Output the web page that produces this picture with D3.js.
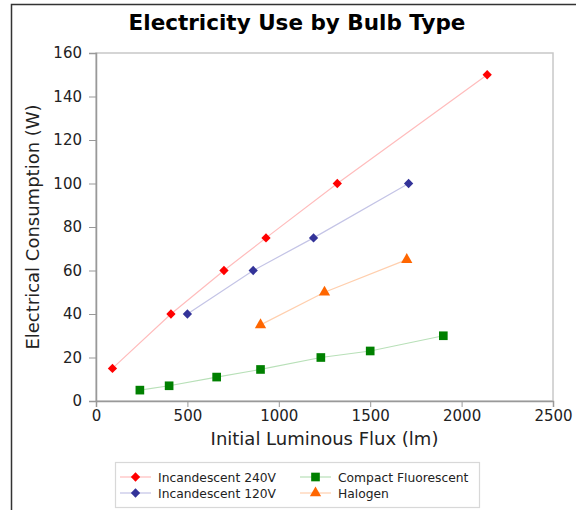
<!DOCTYPE html>
<html><head><meta charset="utf-8">
<script src="https://cdn.jsdelivr.net/npm/d3@7"></script>
<style>body{margin:0;background:#fff}svg{display:block;font-family:"DejaVu Sans",sans-serif}</style>
</head><body><svg id="c" width="576" height="510"></svg>
<script>
const xTicks = [0, 500, 1000, 1500, 2000, 2500];
const yTicks = [0, 20, 40, 60, 80, 100, 120, 140, 160];
const inc240X = [90, 410, 700, 930, 1320, 2140];
const inc240Y = [15, 40, 60, 75, 100, 150];
const inc120X = [500, 860, 1190, 1710];
const inc120Y = [40, 60, 75, 100];
const cflX = [240, 400, 660, 900, 1230, 1500, 1900];
const cflY = [5, 7, 11, 14.5, 20, 23, 30];
const halX = [900, 1250, 1700];
const halY = [35, 50, 65];
const seriesNames = ["Incandescent 240V", "Incandescent 120V", "Compact Fluorescent", "Halogen"];

const svg = d3.select("#c");
const L = 96, R = 553, T = 53, B = 401;
const x = d3.scaleLinear().domain([0, 2500]).range([L, R]);
const y = d3.scaleLinear().domain([0, 160]).range([B, T]);

// outer frame
svg.append("path").attr("d", "M11.5,520 L11.5,4.5 L600,4.5").attr("fill", "none").attr("stroke", "#333").attr("stroke-width", 1.5);

svg.append("text").attr("x", 297).attr("y", 30).attr("text-anchor", "middle")
  .attr("font-size", 21.5).attr("font-weight", "bold").text("Electricity Use by Bulb Type");

// plot frame
svg.append("rect").attr("x", L).attr("y", T).attr("width", R - L).attr("height", B - T)
  .attr("fill", "#fff").attr("stroke", "#c8c8c8").attr("stroke-width", 1.5);

const xa = svg.append("g").attr("transform", `translate(0,${B})`)
  .call(d3.axisBottom(x).tickValues(xTicks).tickSize(6).tickPadding(3).tickFormat(d3.format("d")));
const ya = svg.append("g").attr("transform", `translate(${L},0)`)
  .call(d3.axisLeft(y).tickValues(yTicks).tickSize(7).tickPadding(7).tickFormat(d3.format("d")));
[xa, ya].forEach(a => {
  a.select(".domain").attr("stroke", "#999").attr("stroke-width", 1.5);
  a.selectAll(".tick line").attr("stroke", "#999");
  a.selectAll("text").attr("font-size", 15).attr("fill", "#222").attr("font-family", "DejaVu Sans");
});

svg.append("text").attr("x", (L + R) / 2).attr("y", 445).attr("text-anchor", "middle")
  .attr("font-size", 18).attr("fill", "#222").text("Initial Luminous Flux (lm)");
svg.append("text").attr("transform", `translate(39,${(T + B) / 2}) rotate(-90)`).attr("text-anchor", "middle")
  .attr("font-size", 18).attr("fill", "#222").text("Electrical Consumption (W)");

const diamond = d3.symbol().type(d3.symbolDiamond2).size(55);
const square = d3.symbol().type(d3.symbolSquare).size(75);
const tri = d3.symbol().type(d3.symbolTriangle).size(55);

const series = [
  {name: seriesNames[0], xs: inc240X, ys: inc240Y, c: "#ff0000", lc: "#ffbcbc", sym: diamond},
  {name: seriesNames[1], xs: inc120X, ys: inc120Y, c: "#333399", lc: "#c4c4e6", sym: diamond},
  {name: seriesNames[2], xs: cflX, ys: cflY, c: "#008000", lc: "#b8e0b8", sym: square},
  {name: seriesNames[3], xs: halX, ys: halY, c: "#ff6600", lc: "#ffcfae", sym: tri}
];
const line = d3.line().x(d => x(d[0])).y(d => y(d[1]));
series.forEach(s => {
  const pts = s.xs.map((v, i) => [v, s.ys[i]]);
  svg.append("path").attr("d", line(pts)).attr("fill", "none").attr("stroke", s.lc).attr("stroke-width", 1.2);
  svg.selectAll(null).data(pts).enter().append("path")
    .attr("d", s.sym).attr("fill", s.c)
    .attr("transform", d => `translate(${x(d[0])},${y(d[1])})`);
});

// legend
svg.append("rect").attr("x", 115.5).attr("y", 462.5).attr("width", 364).attr("height", 45)
  .attr("fill", "#fff").attr("stroke", "#d8d8d8").attr("stroke-width", 1.2);
const pos = [[120, 477], [120, 493], [300, 477], [300, 493]];
series.forEach((s, i) => {
  const [px, py] = pos[i];
  svg.append("line").attr("x1", px).attr("x2", px + 31).attr("y1", py).attr("y2", py).attr("stroke", s.lc).attr("stroke-width", 1.2);
  svg.append("path").attr("d", s.sym).attr("fill", s.c).attr("transform", `translate(${px + 15.5},${py})`);
  svg.append("text").attr("x", px + 38).attr("y", py + 4.5).attr("font-size", 12.3).attr("fill", "#222").text(s.name);
});
</script></body></html>
